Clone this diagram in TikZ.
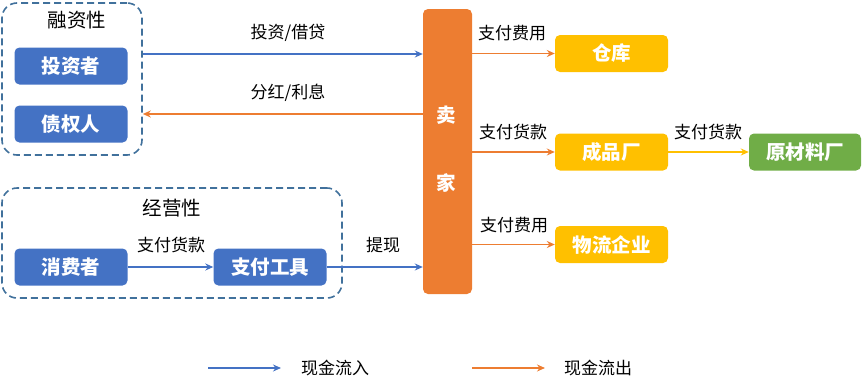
\documentclass[tikz,border=0pt]{standalone}
\usepackage{fontspec}
\setmainfont{Noto Sans CJK SC}
\usetikzlibrary{arrows.meta}

\tikzset{
  party/.style={rounded corners=5pt,minimum width=113pt,minimum height=37pt,inner sep=0pt,
    text=white,font=\fontsize{19.5}{21}\selectfont\bfseries},
  groupbox/.style={draw=colorD,line width=1.6pt,dash pattern=on 7pt off 4pt,rounded corners=15pt,
    inner sep=0pt},
  grouptitle/.style={font=\fontsize{19.5}{21}\selectfont,inner sep=1pt},
  flow/.style={line width=1.5pt,-{Stealth[length=8pt,width=7pt]}},
  lbl/.style={font=\fontsize{17}{19}\selectfont,inner sep=1pt},
}

\begin{document}
\begin{tikzpicture}[x=1pt,y=-1pt]
\definecolor{color1}{HTML}{4472C4}
\definecolor{color2}{HTML}{ED7D31}
\definecolor{color3}{HTML}{FFC000}
\definecolor{color4}{HTML}{70AD47}
\definecolor{colorD}{HTML}{41719C}
\useasboundingbox (0,0) rectangle (862,389);
% groups
\node[groupbox,minimum width=140pt,minimum height=152pt] (fin) at (72,79) {};
\node[groupbox,minimum width=340pt,minimum height=110pt] (ops) at (172,243) {};
\node[grouptitle] (finlbl) at (77,20) {融资性};
\node[grouptitle] (opslbl) at (172,208) {经营性};
% parties
\node[party,fill=color1] (investor) at (71,66) {投资者};
\node[party,fill=color1] (creditor) at (71,124) {债权人};
\node[party,fill=color1] (consumer) at (71,267) {消费者};
\node[party,fill=color1] (paytool) at (270,267) {支付工具};
\node[rounded corners=5pt,fill=color2,minimum width=49pt,minimum height=285pt,inner sep=0pt] (seller) at (447.5,151.5) {};
\node[text=white,font=\fontsize{19.5}{21}\selectfont\bfseries] (sellerA) at (446,115) {卖};
\node[text=white,font=\fontsize{19.5}{21}\selectfont\bfseries] (sellerB) at (446,183) {家};
\node[party,fill=color3] (warehouse) at (611.5,53.5) {仓库};
\node[party,fill=color3] (factory) at (611.5,152) {成品厂};
\node[party,fill=color4,minimum width=112pt] (material) at (805,152) {原材料厂};
\node[party,fill=color3] (logistics) at (611.5,244.5) {物流企业};
% flows
\draw[flow,color1] (fin.east |- 0,54) -- (seller.west |- 0,54);
\draw[flow,color2] (seller.west |- 0,114) -- (fin.east |- 0,114);
\draw[flow,color1] (consumer) -- (paytool);
\draw[flow,color1] (paytool) -- (seller.west |- paytool);
\draw[flow,color2] (seller.east |- warehouse) -- (warehouse);
\draw[flow,color2] (seller.east |- factory) -- (factory);
\draw[flow,color3] (factory) -- (material);
\draw[flow,color2] (seller.east |- logistics) -- (logistics);
\node[lbl] (l1) at (288,33) {投资/借贷};
\node[lbl] (l2) at (288,93) {分红/利息};
\node[lbl] (l3) at (171,245) {支付货款};
\node[lbl] (l4) at (383,245) {提现};
\node[lbl] (l5) at (512,33) {支付费用};
\node[lbl] (l6) at (513,132) {支付货款};
\node[lbl] (l7) at (708,132) {支付货款};
\node[lbl] (l8) at (514,225) {支付费用};
% legend
\coordinate (inA) at (208,368);
\coordinate (inB) at (281,368);
\coordinate (outA) at (472,368);
\coordinate (outB) at (545,368);
\draw[flow,color1] (inA) -- (inB);
\draw[flow,color2] (outA) -- (outB);
\node[lbl] (inlbl) at (335,368) {现金流入};
\node[lbl] (outlbl) at (598,368) {现金流出};
\end{tikzpicture}
\end{document}
